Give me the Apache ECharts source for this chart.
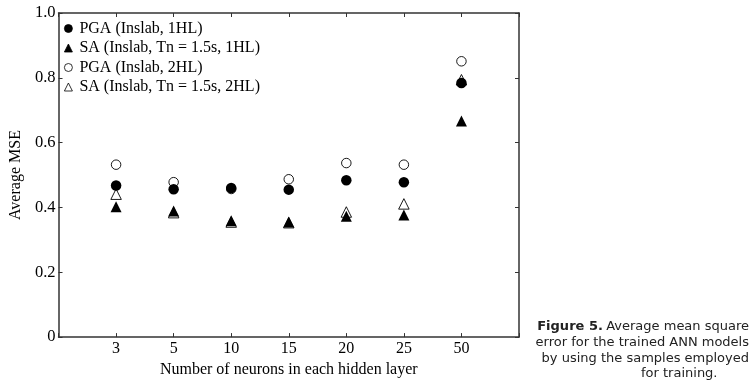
<!DOCTYPE html>
<html><head><meta charset="utf-8">
<script src="https://cdn.jsdelivr.net/npm/echarts@6/dist/echarts.min.js"></script>
<style>html,body{margin:0;padding:0;background:#fff}#c{width:753px;height:383px}</style>
</head><body><div id="c"></div>
<script>
const categories = ['3', '5', '10', '15', '20', '25', '50'];
const yTicks = [0, 0.2, 0.4, 0.6, 0.8, 1.0];
const pga1HL = [0.468, 0.456, 0.460, 0.455, 0.484, 0.478, 0.784];
const sa1HL  = [0.402, 0.389, 0.359, 0.355, 0.373, 0.377, 0.667];
const pga2HL = [0.532, 0.478, 0.457, 0.487, 0.537, 0.532, 0.851];
const sa2HL  = [0.441, 0.384, 0.355, 0.353, 0.386, 0.411, 0.794];
const seriesNames = ['PGA (Inslab, 1HL)', 'SA (Inslab, Tn = 1.5s, 1HL)', 'PGA (Inslab, 2HL)', 'SA (Inslab, Tn = 1.5s, 2HL)'];
const captionLines = ['Average mean square', 'error for the trained ANN models', 'by using the samples employed', 'for training.'];

const serif = 'Liberation Serif';
const sans = 'DejaVu Sans';
const toPts = arr => arr.map((v, i) => [i + 1, v]);
const axisColor = '#333';

const chart = echarts.init(document.getElementById('c'), null, {renderer: 'canvas'});
const mk = (name, data, symbol, size, z, fill, bw) => ({
  name, type: 'scatter', data: toPts(data), symbol, symbolSize: size, z,
  itemStyle: {color: fill, borderColor: '#000', borderWidth: bw, opacity: 1}
});
chart.setOption({
  animation: false,
  grid: {left: 49, right: 234, top: 13, bottom: 37},
  legend: {
    orient: 'vertical', left: 59, top: 15.5, itemGap: 3.5, itemWidth: 8, itemHeight: 8,
    textStyle: {fontFamily: serif, fontSize: 16, color: '#000', padding: [0, 0, 0, 2]},
    itemStyle: {borderWidth: 0.8},
    data: seriesNames
  },
  xAxis: [{
    type: 'value', min: 0, max: 8, interval: 1,
    name: 'Number of neurons in each hidden layer', nameLocation: 'middle', nameGap: 22,
    nameTextStyle: {fontFamily: serif, fontSize: 16, color: '#000'},
    axisLine: {onZero: false, lineStyle: {color: axisColor, width: 1.5}},
    axisTick: {inside: true, length: 4, lineStyle: {color: axisColor}},
    axisLabel: {fontFamily: serif, fontSize: 16, color: '#000', margin: 4,
      formatter: v => categories[v - 1] || ''},
    splitLine: {show: false}
  }, {
    type: 'value', min: 0, max: 8, interval: 1, position: 'top',
    axisLine: {show: true, onZero: false, lineStyle: {color: axisColor, width: 1.5}},
    axisTick: {show: true, inside: true, length: 4, lineStyle: {color: axisColor}},
    axisLabel: {show: false}, splitLine: {show: false}
  }],
  yAxis: [{
    type: 'value', min: 0, max: 1, interval: 0.2,
    name: 'Average MSE', nameLocation: 'middle', nameGap: 29,
    nameTextStyle: {fontFamily: serif, fontSize: 16, color: '#000'},
    axisLine: {show: true, onZero: false, lineStyle: {color: axisColor, width: 1.5}},
    axisTick: {show: true, inside: true, length: 4, lineStyle: {color: axisColor}},
    axisLabel: {fontFamily: serif, fontSize: 16.5, color: '#000', margin: 3,
      formatter: v => { const t = yTicks.find(x => Math.abs(x - v) < 1e-9); return t === 0 ? '0' : (t !== undefined ? t.toFixed(1) : ''); }},
    splitLine: {show: false}
  }, {
    type: 'value', min: 0, max: 1, interval: 0.2, position: 'right',
    axisLine: {show: true, onZero: false, lineStyle: {color: axisColor, width: 1.5}},
    axisTick: {show: true, inside: true, length: 4, lineStyle: {color: axisColor}},
    axisLabel: {show: false}, splitLine: {show: false}
  }],
  series: [
    mk(seriesNames[0], pga1HL, 'circle', 10.5, 4, '#000', 0),
    mk(seriesNames[1], sa1HL, 'triangle', 11, 3, '#000', 0),
    mk(seriesNames[2], pga2HL, 'circle', 9.5, 2, '#fff', 0.9),
    mk(seriesNames[3], sa2HL, 'triangle', 10.5, 1, '#fff', 0.9)
  ],
  graphic: [
    {type: 'text', right: 4, top: 320, style: {rich: {b: {fontWeight: 'bold', fontFamily: sans, fontSize: 13, fill: '#222'}, n: {fontFamily: sans, fontSize: 13, fill: '#222'}}, text: '{b|Figure 5.} {n|' + captionLines[0] + '}'}},
    {type: 'text', right: 4, top: 336, style: {text: captionLines[1], fontFamily: sans, fontSize: 13, fill: '#222'}},
    {type: 'text', right: 4, top: 352, style: {text: captionLines[2], fontFamily: sans, fontSize: 13, fill: '#222'}},
    {type: 'text', left: 641, top: 367, style: {text: captionLines[3], fontFamily: sans, fontSize: 13, fill: '#222', align: 'center'}}
  ]
});
</script></body></html>
